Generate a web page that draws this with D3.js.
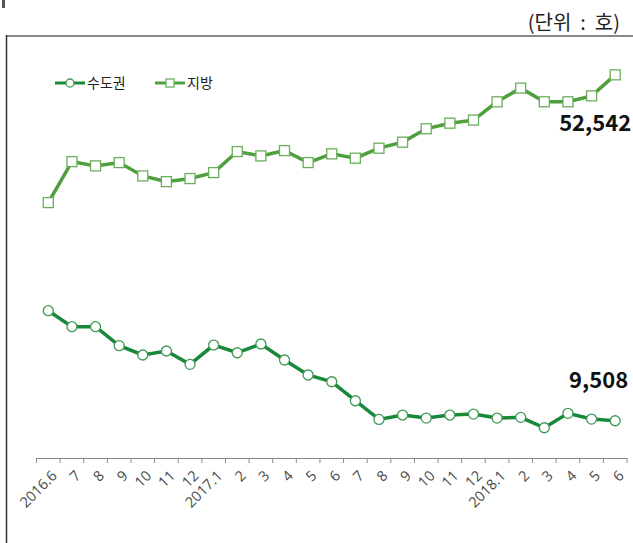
<!DOCTYPE html>
<html>
<head>
<meta charset="utf-8">
<script src="https://cdn.jsdelivr.net/npm/d3@7"></script>
<style>
  body { margin: 0; background: #fff; }
  svg { display: block; }
</style>
</head>
<body>
<div id="chart"></div>
<script>
// months on the x axis
const months = ["2016.6","7","8","9","10","11","12","2017.1","2","3","4","5","6",
  "7","8","9","10","11","12","2018.1","2","3","4","5","6"];

// 수도권 (capital area), unit: 호
const metroValues = [23200, 21210, 21210, 18850, 17690, 18190, 16530, 18930, 17970, 19060,
  17070, 15200, 14360, 12000, 9680, 10220, 9840, 10220, 10340, 9840, 9930, 8640, 10430, 9720, 9508];

// 지방 (provinces), unit: 호
const provinceValues = [36650, 41750, 41220, 41630, 39970, 39260, 39640, 40380, 43000, 42460,
  43120, 41630, 42710, 42180, 43420, 44170, 45830, 46530, 46910, 49190, 50890, 49190, 49190, 49930, 52542];

const seriesNames = ["수도권", "지방"];
const unitLabel = "(단위 : 호)";

/*******************************/
/*    Declare the constants    */
/*******************************/
const width = 633;
const height = 543;
const axisY = 458;
const font = "'Noto Sans CJK KR', 'Noto Sans', sans-serif";
const tickFont = "'Open Sans', 'Noto Sans', sans-serif";
const metroColor = "#18893a";
const provinceColor = "#4e9f3d";

const svg = d3.select("#chart")
  .append("svg")
    .attr("width", width)
    .attr("height", height);

// frame
svg.append("rect")
  .attr("x", 2).attr("y", 0).attr("width", 3).attr("height", 8)
  .attr("fill", "#555");
svg.append("line")
  .attr("x1", 6).attr("x2", width).attr("y1", 36).attr("y2", 36)
  .attr("stroke", "#888").attr("stroke-width", 2);
svg.append("line")
  .attr("x1", 6.5).attr("x2", 6.5).attr("y1", 35).attr("y2", height)
  .attr("stroke", "#333").attr("stroke-width", 1.5);

// unit label
svg.append("text")
  .attr("x", 620).attr("y", 30)
  .attr("text-anchor", "end")
  .attr("font-family", font)
  .attr("font-size", 20)
  .attr("fill", "#222")
  .style("white-space", "pre")
  .text(unitLabel.replace(" : ", "  :  "));

/****************************/
/*    Declare the scales    */
/****************************/
const xScale = d3.scaleBand()
  .domain(d3.range(months.length))
  .range([36.5, 627]);

const yScale = d3.scaleLinear()
  .domain([5000, 57500])
  .range([457, 35]);

const cx = i => xScale(i) + xScale.bandwidth() / 2;

/**************************/
/*      Add the axes      */
/**************************/
const bottomAxis = d3.axisBottom(xScale)
  .tickSize(0)
  .tickFormat(i => months[i]);

const axisG = svg.append("g")
  .attr("transform", `translate(0, ${axisY})`)
  .call(bottomAxis);
axisG.select(".domain").attr("stroke", "#8a8a8a");
axisG.selectAll(".tick text")
  .attr("font-family", tickFont)
  .attr("font-size", 14.5)
  .attr("fill", "#4a4a4a")
  .attr("text-anchor", "end")
  .attr("x", 0).attr("y", 0).attr("dy", "0.35em")
  .attr("transform", "translate(6, 15) rotate(-45)");

// boundary ticks between the months
const bounds = d3.range(months.length + 1).map(i =>
  i < months.length ? xScale(i) : xScale(months.length - 1) + xScale.bandwidth());
axisG.selectAll(".bound")
  .data(bounds)
  .join("line")
    .attr("class", "bound")
    .attr("x1", d => d).attr("x2", d => d)
    .attr("y1", 0).attr("y2", 5)
    .attr("stroke", "#8a8a8a");

/*******************************/
/*    Append the shapes        */
/*******************************/
const lineGen = d3.line()
  .x((d, i) => cx(i))
  .y(d => yScale(d));

svg.append("path")
  .attr("d", lineGen(provinceValues))
  .attr("fill", "none")
  .attr("stroke", provinceColor)
  .attr("stroke-width", 3.5);

svg.append("path")
  .attr("d", lineGen(metroValues))
  .attr("fill", "none")
  .attr("stroke", metroColor)
  .attr("stroke-width", 3.5);

const sq = 10;
svg.selectAll(".province-pt")
  .data(provinceValues)
  .join("rect")
    .attr("class", "province-pt")
    .attr("x", (d, i) => cx(i) - sq / 2)
    .attr("y", d => yScale(d) - sq / 2)
    .attr("width", sq).attr("height", sq)
    .attr("fill", "#fff")
    .attr("stroke", "#6aae5c")
    .attr("stroke-width", 1.3);

svg.selectAll(".metro-pt")
  .data(metroValues)
  .join("circle")
    .attr("class", "metro-pt")
    .attr("cx", (d, i) => cx(i))
    .attr("cy", d => yScale(d))
    .attr("r", 5)
    .attr("fill", "#fff")
    .attr("stroke", "#3f9a55")
    .attr("stroke-width", 1.3);

// last value labels
const last = months.length - 1;
svg.append("text")
  .attr("x", cx(last) + 16)
  .attr("y", yScale(provinceValues[last]) + 56)
  .attr("text-anchor", "end")
  .attr("font-family", font)
  .attr("font-weight", "bold")
  .attr("font-size", 22)
  .attr("fill", "#111")
  .text(d3.format(",")(provinceValues[last]));

svg.append("text")
  .attr("x", cx(last) + 13)
  .attr("y", yScale(metroValues[last]) - 33)
  .attr("text-anchor", "end")
  .attr("font-family", font)
  .attr("font-weight", "bold")
  .attr("font-size", 22)
  .attr("fill", "#111")
  .text(d3.format(",")(metroValues[last]));

/**************************/
/*       Legend           */
/**************************/
const legend = svg.append("g").attr("transform", "translate(55, 83)");
const items = [
  {name: seriesNames[0], x: 0, color: metroColor, marker: "circle"},
  {name: seriesNames[1], x: 100, color: provinceColor, marker: "rect"}
];
items.forEach(it => {
  const g = legend.append("g").attr("transform", `translate(${it.x}, 0)`);
  g.append("line")
    .attr("x1", 0).attr("x2", 30).attr("y1", 0).attr("y2", 0)
    .attr("stroke", it.color).attr("stroke-width", 3);
  if (it.marker === "circle") {
    g.append("circle").attr("cx", 15).attr("cy", 0).attr("r", 4)
      .attr("fill", "#fff").attr("stroke", "#3f9a55").attr("stroke-width", 1.3);
  } else {
    g.append("rect").attr("x", 11).attr("y", -4).attr("width", 8).attr("height", 8)
      .attr("fill", "#fff").attr("stroke", "#6aae5c").attr("stroke-width", 1.3);
  }
  g.append("text")
    .attr("x", 32).attr("y", 0).attr("dy", "0.35em")
    .attr("font-family", font)
    .attr("font-size", 14)
    .attr("fill", "#222")
    .text(it.name);
});
</script>
</body>
</html>
